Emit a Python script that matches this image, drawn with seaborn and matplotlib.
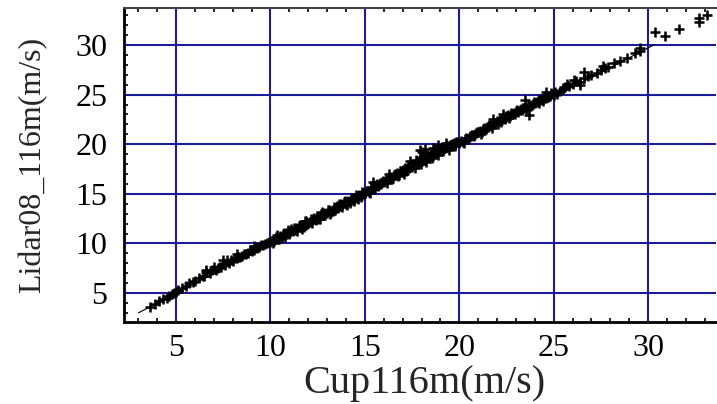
import matplotlib
matplotlib.use("Agg")
import matplotlib.pyplot as plt
import seaborn as sns
import pandas as pd
from matplotlib.ticker import MultipleLocator

# ---- data ----
seg_a_x = [3.6, 3.9, 4.1, 4.3, 4.5, 4.6, 4.8, 4.9, 5.0, 5.1]
seg_a_y = [3.6, 3.9, 4.2, 4.4, 4.5, 4.7, 4.9, 5.0, 5.1, 5.3]

seg_b_x = [5.3, 5.5, 5.7, 5.9, 6.0, 6.2, 6.4, 6.5, 6.6, 6.8, 6.9, 7.0, 7.1, 7.2, 7.3, 7.4, 7.5, 7.6, 7.7, 7.8, 7.9,
           8.0, 8.1, 8.2, 8.3, 8.4, 8.5, 8.6, 8.7, 8.8, 8.9, 9.0, 9.1, 9.2, 9.3, 9.4, 9.5, 9.6, 9.7, 9.8, 9.9, 10.0,
           7.5, 6.6, 8.2, 9.1]
seg_b_y = [5.5, 5.7, 6.0, 6.1, 6.2, 6.5, 6.7, 6.7, 7.1, 7.0, 7.3, 7.6, 7.3, 7.5, 7.6, 7.6, 7.9, 7.8, 8.3, 8.0, 8.3,
           8.2, 8.5, 8.5, 8.6, 8.6, 8.7, 8.9, 8.9, 9.0, 9.3, 9.2, 9.3, 9.6, 9.5, 9.6, 9.8, 9.8, 9.9, 10.0, 10.1, 10.1,
           8.3, 7.3, 8.9, 9.7]

seg_c_x = [10.1, 10.2, 10.3, 10.4, 10.5, 10.6, 10.7, 10.8, 10.9, 11.0, 11.1, 11.2, 11.3, 11.4, 11.5, 11.6, 11.7,
           11.8, 11.9, 12.0, 12.1, 12.2, 12.3, 12.4, 12.5, 12.6, 12.7, 12.8, 12.9, 13.0, 13.1, 13.2, 13.3, 13.4,
           13.5, 13.6, 13.7, 13.8, 13.9, 14.0, 14.1, 14.2, 14.3, 14.4, 14.5, 14.6, 14.7, 14.8, 14.9, 15.0,
           10.15, 10.45, 10.75, 11.05, 11.35, 11.65, 11.95, 12.25, 12.55, 12.85, 13.15, 13.45, 13.75, 14.05,
           14.35, 14.65, 14.95,
           10.35, 10.65, 10.95, 11.25, 11.55, 11.85, 12.15, 12.45, 12.75, 13.05, 13.35, 13.65, 13.95, 14.25,
           14.55, 14.85]
seg_c_y = [10.2, 10.2, 10.6, 10.4, 10.7, 10.5, 11.1, 10.9, 11.1, 10.9, 11.5, 11.3, 11.4, 11.3, 11.8, 11.7, 11.9,
           11.7, 12.3, 12.1, 12.2, 12.1, 12.6, 12.4, 12.6, 12.5, 13.0, 12.9, 12.9, 13.1, 13.4, 13.2, 13.3, 13.4,
           13.8, 13.6, 13.8, 13.7, 14.2, 14.0, 14.3, 14.1, 14.5, 14.3, 14.6, 14.7, 14.9, 14.7, 15.1, 15.1,
           10.0, 10.4, 10.6, 11.2, 11.6, 11.5, 12.0, 12.5, 12.5, 13.1, 13.0, 13.6, 14.0, 13.9,
           14.6, 14.5, 15.0,
           10.8, 11.0, 11.4, 11.6, 11.9, 12.3, 12.5, 12.8, 13.2, 13.4, 13.7, 14.0, 14.3, 14.6,
           14.9, 15.2]

seg_d_x = [15.1, 15.2, 15.3, 15.4, 15.5, 15.6, 15.7, 15.8, 15.9, 16.0, 16.1, 16.2, 16.3, 16.4, 16.5, 16.6, 16.7,
           16.8, 16.9, 17.0, 17.1, 17.2, 17.3, 17.4, 17.5, 17.6, 17.7, 17.8, 17.9, 18.0, 18.1, 18.2, 18.3, 18.4,
           18.5, 18.6, 18.7, 18.8, 18.9, 19.0, 19.1, 19.2, 19.3, 19.4, 19.5, 19.6, 19.7, 19.8, 19.9, 20.0,
           15.25, 15.55, 15.85, 16.15, 16.45, 16.75, 17.05, 17.35, 17.65, 17.95, 18.25, 18.55, 18.85, 19.15,
           19.45, 19.75, 17.9, 18.2, 18.9, 17.4, 16.3, 18.6, 19.3, 18.0, 15.44,
           15.35, 15.65, 15.95, 16.25, 16.55, 16.85, 17.15, 17.45, 17.75, 18.05, 18.35, 18.65, 18.95, 19.25,
           19.55, 19.85]
seg_d_y = [15.3, 15.2, 15.6, 15.5, 15.7, 15.9, 15.8, 16.1, 16.2, 16.2, 16.4, 16.5, 16.6, 16.7, 16.6, 17.0, 17.1,
           16.9, 17.3, 17.4, 17.5, 17.3, 17.8, 17.9, 17.7, 18.0, 18.4, 18.1, 18.5, 18.3, 18.7, 18.4, 18.9, 18.8,
           19.0, 18.8, 19.3, 19.2, 19.3, 19.5, 19.5, 19.6, 19.8, 19.8, 19.9, 20.0, 20.1, 20.0, 20.2, 20.1,
           15.1, 15.5, 16.0, 16.1, 16.5, 16.8, 17.0, 17.6, 17.6, 18.0, 18.2, 18.6, 18.9, 19.3,
           19.4, 19.8, 19.4, 19.5, 19.9, 18.3, 17.0, 19.6, 20.1, 19.2, 16.2,
           15.7, 16.0, 16.3, 16.6, 16.9, 17.3, 17.6, 17.9, 18.3, 18.6, 18.8, 19.1, 19.4, 19.7,
           19.9, 20.2]

seg_e_x = [20.1, 20.2, 20.3, 20.4, 20.5, 20.6, 20.7, 20.8, 20.9, 21.0, 21.1, 21.2, 21.3, 21.4, 21.5, 21.6, 21.7,
           21.8, 21.9, 22.0, 22.1, 22.2, 22.3, 22.4, 22.5, 22.6, 22.7, 22.8, 22.9, 23.0, 23.1, 23.2, 23.3, 23.4,
           23.5, 23.6, 23.7, 23.8, 23.9, 24.0, 24.1, 24.2, 24.3, 24.4, 24.5, 24.6, 24.7, 24.8, 24.9, 25.0,
           20.25, 20.55, 20.85, 21.15, 21.45, 21.75, 22.05, 22.35, 22.65, 22.95, 23.25, 23.55, 23.85, 24.15,
           24.45, 24.75, 25.05, 25.2, 25.35, 25.5, 23.5, 23.7, 21.8, 22.3, 24.6,
           20.35, 20.65, 20.95, 21.25, 21.55, 21.85, 22.15, 22.45, 22.75, 23.05, 23.35, 23.65, 23.95, 24.25,
           24.55, 24.85]
seg_e_y = [20.3, 20.2, 20.5, 20.5, 20.6, 20.8, 20.9, 20.8, 21.1, 21.2, 21.3, 21.2, 21.6, 21.5, 21.7, 21.8, 21.9,
           22.0, 22.1, 22.3, 22.3, 22.2, 22.6, 22.5, 22.7, 22.9, 22.8, 23.0, 23.1, 23.3, 23.2, 23.4, 23.4, 23.6,
           23.8, 23.7, 23.9, 23.9, 24.1, 24.2, 24.3, 24.2, 24.5, 24.6, 24.7, 24.7, 24.8, 24.9, 25.1, 25.0,
           20.1, 20.8, 21.0, 21.0, 21.7, 21.6, 22.0, 22.6, 22.6, 23.0, 23.5, 23.5, 24.0, 24.4,
           24.4, 24.9, 25.3, 25.1, 25.4, 25.6, 24.5, 22.9, 22.5, 23.0, 25.3,
           20.6, 20.9, 21.2, 21.5, 21.9, 22.1, 22.5, 22.8, 23.1, 23.4, 23.6, 23.9, 24.3, 24.5,
           24.8, 25.2]

seg_f_x = [25.6, 25.8, 26.0, 26.2, 26.4, 26.6, 26.8, 27.0, 27.3, 27.5, 27.7, 27.9, 28.2, 28.5, 28.9, 29.3,
           29.6, 29.6, 26.6, 26.4, 25.7, 26.1, 27.6]
seg_f_y = [25.8, 25.9, 26.1, 26.4, 26.3, 26.7, 26.9, 27.0, 27.2, 27.5, 27.7, 27.8, 28.2, 28.4, 28.7, 29.2,
           29.4, 29.7, 27.3, 26.0, 26.1, 26.5, 27.9]

seg_g_x = [30.35, 30.9, 31.65, 32.7, 32.7, 33.1]
seg_g_y = [31.3, 30.9, 31.6, 32.3, 32.7, 33.05]

fit_x = [3.0, 30.3]
fit_y = [3.0, 30.0]

x_ticks = [5, 10, 15, 20, 25, 30]
y_ticks = [5, 10, 15, 20, 25, 30]
x_label = "Cup116m(m/s)"
y_label = "Lidar08_116m(m/s)"

cup = seg_a_x + seg_b_x + seg_c_x + seg_d_x + seg_e_x + seg_f_x + seg_g_x
lidar = seg_a_y + seg_b_y + seg_c_y + seg_d_y + seg_e_y + seg_f_y + seg_g_y
df = pd.DataFrame({"cup": cup, "lidar": lidar})
fit = pd.DataFrame({"x": fit_x, "y": fit_y})

sns.set_style("white")
plt.rcParams["font.family"] = ["Liberation Serif", "DejaVu Serif"]

fig = plt.figure(figsize=(7.17, 4.04), dpi=100)
ax = fig.add_axes([124 / 717, 1 - 322 / 404, (716 - 124) / 717, (322 - 8) / 404])

grid_color = "#1c1c9a"
for v in x_ticks:
    ax.axvline(v, color=grid_color, lw=1.5, zorder=1)
for v in y_ticks:
    ax.axhline(v, color=grid_color, lw=1.5, zorder=1)

sns.lineplot(data=fit, x="x", y="y", ax=ax, color="black", lw=0.8, zorder=2)
sns.scatterplot(data=df, x="cup", y="lidar", ax=ax, marker="+", color="black",
                s=42, linewidth=1.8, zorder=3)

ax.set_xlim(2.24, 33.6)
ax.set_ylim(2.08, 33.73)
ax.set_xticks(x_ticks)
ax.set_yticks(y_ticks)
ax.xaxis.set_minor_locator(MultipleLocator(1))
ax.yaxis.set_minor_locator(MultipleLocator(1))
ax.tick_params(which="major", length=0, labelsize=23, colors="black")
ax.tick_params(axis="x", which="major", pad=9)
ax.tick_params(axis="y", which="major", pad=12)
ax.tick_params(which="minor", direction="in", length=3, width=1.2, color="black",
               bottom=True, top=True, left=True, right=False)

for s in ["left", "bottom"]:
    ax.spines[s].set_color("black")
    ax.spines[s].set_linewidth(2)
ax.spines["top"].set_color("#444444")
ax.spines["top"].set_linewidth(1.5)
ax.spines["right"].set_visible(False)

ax.set_xlabel(x_label, fontsize=29)
ax.set_ylabel(y_label, fontsize=23)
ax.xaxis.label.set_verticalalignment("baseline")
ax.xaxis.set_label_coords((424 - 124) / 592, -(393 - 322) / 314)
ax.yaxis.set_label_coords(-(124 - 33) / 592, 0.5)
ax.yaxis.label.set_verticalalignment("center")

fig.savefig("out.png", dpi=100)
